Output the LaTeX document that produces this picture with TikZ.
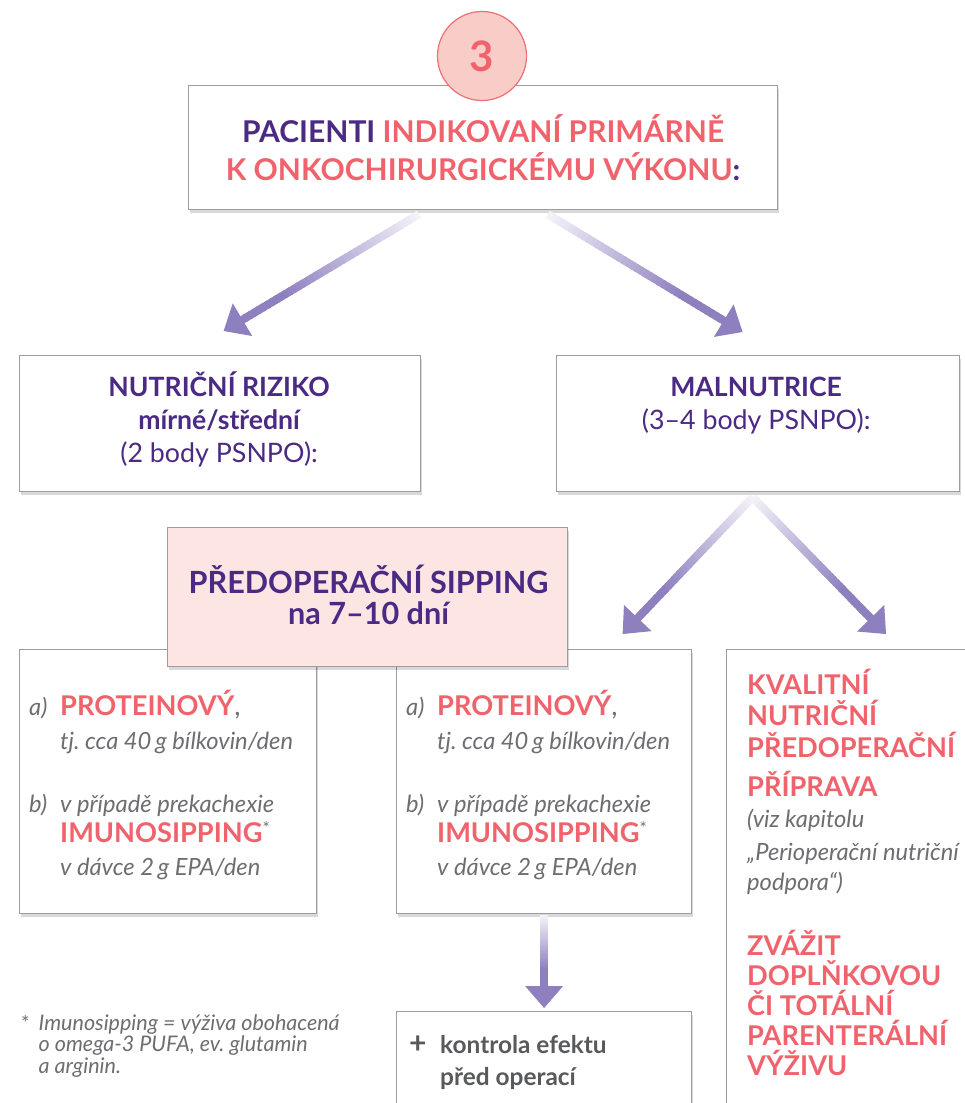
\documentclass[tikz,border=0pt]{standalone}
\usepackage{fontspec}
\setmainfont{Lato}
\frenchspacing
\usetikzlibrary{calc,shadows}
\definecolor{txtpurple}{HTML}{4B2A84}
\definecolor{coral}{HTML}{F0636D}
\definecolor{txtgrey}{HTML}{6D6E71}
\definecolor{darkgrey}{HTML}{58595B}
\definecolor{boxline}{HTML}{9D9D9D}
\definecolor{pinkfill}{HTML}{FCE5E2}
\definecolor{circfill}{HTML}{F9CDC7}
\definecolor{circline}{HTML}{EE6E73}
\definecolor{arrowpurple}{HTML}{8E80BF}
\definecolor{arrowstart}{HTML}{F4F2F9}
\newcommand\fadearrow[2]{%
  \path ($(#2)!22pt!(#1)$) coordinate (ab);
  \foreach \k in {0,...,39}{%
    \pgfmathsetmacro\ta{\k/40}%
    \pgfmathsetmacro\tb{(\k+1.6)/40}%
    \pgfmathsetmacro\pc{min(100,\k*100/30)}%
    \draw[line width=8pt, arrowpurple!\pc!arrowstart] ($(#1)!\ta!(ab)$) -- ($(#1)!\tb!(ab)$);
  }%
  \fill[arrowpurple] (#2) -- ($(ab)!19pt!90:(#2)$) -- ($(ab)!19pt!-90:(#2)$) -- cycle;
}
\newcommand\sipcontent[2]{%
  \node[itl, anchor=base west] (#2a) at ($(#1.north west)+(10,66)$) {a)};
  \node[redb, anchor=base west] (#2p) at ($(#1.north west)+(41,66)$) {PROTEINOVÝ\textcolor{txtgrey}{\mdseries\upshape ,}};
  \node[itl, anchor=base west] (#2t) at ($(#1.north west)+(41,100)$) {tj. cca 40\,g bílkovin/den};
  \node[itl, anchor=base west] (#2b) at ($(#1.north west)+(10,163)$) {b)};
  \node[itl, anchor=base west] (#2v) at ($(#1.north west)+(41,163)$) {v případě prekachexie};
  \node[redb, anchor=base west] (#2i) at ($(#1.north west)+(41,193)$) {IMUNOSIPPING\textcolor{txtgrey}{\mdseries\fontsize{17}{17}\selectfont\raisebox{8pt}{*}}};
  \node[itl, anchor=base west] (#2d) at ($(#1.north west)+(41,226)$) {v dávce 2\,g EPA/den};
}
\begin{document}
\begin{tikzpicture}[x=1pt,y=-1pt,
  box/.style={draw=boxline, line width=1.2pt, fill=white, inner sep=0pt,
    drop shadow={shadow xshift=1.5pt, shadow yshift=-3pt, opacity=0.15, fill=black}},
  hd/.style={anchor=base, inner sep=0pt, font=\fontsize{30}{34}\selectfont\bfseries},
  mid/.style={anchor=base, inner sep=0pt, text=txtpurple, font=\fontsize{26.8}{30}\selectfont},
  midb/.style={mid, font=\fontsize{26.6}{30}\selectfont\bfseries},
  sipb/.style={anchor=base, inner sep=0pt, text=txtpurple, font=\fontsize{30.6}{34}\selectfont\bfseries},
  itl/.style={inner sep=0pt, text=txtgrey, font=\fontsize{23.7}{27}\selectfont\itshape},
  redb/.style={inner sep=0pt, text=coral, font=\fontsize{27.2}{31}\selectfont\bfseries},
  foot/.style={inner sep=0pt, anchor=base west, text=txtgrey, font=\fontsize{21.5}{24}\selectfont\itshape},
  ctrl/.style={inner sep=0pt, anchor=base west, text=darkgrey, font=\fontsize{24.4}{28}\selectfont\bfseries}
]
\useasboundingbox (0,0) rectangle (965,1103);
\clip (0,0) rectangle (965,1103);
\fill[white] (0,0) rectangle (965,1103);

% top box and number
\node[box, anchor=north west, minimum width=589pt, minimum height=124pt] (topbox) at (188,85) {};
\node[circle, draw=circline, line width=1.2pt, fill=circfill, minimum size=89pt, inner sep=0pt, text=coral,
  font=\fontsize{42}{42}\selectfont\bfseries] (num) at (482,56) {3};
\node[hd] (t1) at ($(topbox.north)+(0,57.7)$) {\textcolor{txtpurple}{PACIENTI} \textcolor{coral}{INDIKOVANÍ PRIMÁRNĚ}};
\node[hd] (t2) at ($(topbox.north)+(0,95)$) {\textcolor{coral}{K ONKOCHIRURGICKÉMU VÝKONU}\textcolor{txtpurple}{:}};

% second row
\node[box, anchor=north west, minimum width=401pt, minimum height=136pt] (nrbox) at (19,355) {};
\node[box, anchor=north west, minimum width=403pt, minimum height=136pt] (malbox) at (556,355) {};
\node[midb] (n1) at ($(nrbox.north)+(-1,41)$) {NUTRIČNÍ RIZIKO};
\node[midb] (n2) at ($(nrbox.north)+(-1,74)$) {mírné/střední};
\node[mid] (n3) at ($(nrbox.north)+(-1,107)$) {(2 body PSNPO):};
\node[midb] (m1) at ($(malbox.north)+(-2,41)$) {MALNUTRICE};
\node[mid] (m2) at ($(malbox.north)+(-2,74)$) {(3–4 body PSNPO):};

% lower boxes
\node[box, anchor=north west, minimum width=297pt, minimum height=264pt] (lbox) at (19,649) {};
\node[box, anchor=north west, minimum width=295pt, minimum height=264pt] (midbox) at (396,649) {};
\node[box, anchor=north west, minimum width=300pt, minimum height=520pt] (rbox) at (726,649) {};
\node[box, anchor=north west, minimum width=295pt, minimum height=160pt] (botbox) at (396,1011) {};
\node[box, fill=pinkfill, anchor=north west, minimum width=400pt, minimum height=139pt] (sip) at (167,527) {};
\node[sipb] (s1) at ($(sip.north)+(1,66)$) {PŘEDOPERAČNÍ SIPPING};
\node[sipb] (s2) at ($(sip.north)+(1,97)$) {na 7–10 dní};

\sipcontent{lbox}{L}
\sipcontent{midbox}{M}

% right box text
\node[redb, anchor=base west] (r1) at ($(rbox.north west)+(21,45)$) {KVALITNÍ};
\node[redb, anchor=base west] (r2) at ($(rbox.north west)+(21,76)$) {NUTRIČNÍ};
\node[redb, anchor=base west] (r3) at ($(rbox.north west)+(21,108)$) {PŘEDOPERAČNÍ};
\node[redb, anchor=base west] (r4) at ($(rbox.north west)+(21,147)$) {PŘÍPRAVA};
\node[itl, anchor=base west] (r5) at ($(rbox.north west)+(21,178)$) {(viz kapitolu};
\node[itl, anchor=base west] (r6) at ($(rbox.north west)+(21,211)$) {„Perioperační nutriční};
\node[itl, anchor=base west] (r7) at ($(rbox.north west)+(21,241)$) {podpora“)};
\node[redb, anchor=base west] (r8) at ($(rbox.north west)+(21,306)$) {ZVÁŽIT};
\node[redb, anchor=base west] (r9) at ($(rbox.north west)+(21,336)$) {DOPLŇKOVOU};
\node[redb, anchor=base west] (r10) at ($(rbox.north west)+(21,366)$) {ČI TOTÁLNÍ};
\node[redb, anchor=base west] (r11) at ($(rbox.north west)+(21,396)$) {PARENTERÁLNÍ};
\node[redb, anchor=base west] (r12) at ($(rbox.north west)+(21,426)$) {VÝŽIVU};

% bottom box text
\node[ctrl, font=\fontsize{30}{30}\selectfont\bfseries] (plus) at ($(botbox.north west)+(13,42)$) {+};
\node[ctrl] (c1) at ($(botbox.north west)+(44,42)$) {kontrola efektu};
\node[ctrl] (c2) at ($(botbox.north west)+(44,74)$) {před operací};

% footnote
\node[foot, font=\fontsize{20}{22}\selectfont] (fs) at (21,1030) {*};
\node[foot] (f1) at (38.5,1030) {Imunosipping = výživa obohacená};
\node[foot] (f2) at (38.5,1051.5) {o omega-3 PUFA, ev. glutamin};
\node[foot] (f3) at (38.5,1073) {a arginin.};

% arrows
\coordinate (a1s) at ($(topbox.south)+(-64,4)$);
\coordinate (a1e) at ($(nrbox.north)+(3.5,-24)$);
\coordinate (a2s) at ($(topbox.south)+(64.5,4)$);
\coordinate (a2e) at ($(malbox.north)+(-15.5,-23)$);
\coordinate (a3s) at ($(malbox.south)+(-5.5,5)$);
\coordinate (a3e) at ($(midbox.north)+(78.5,-15)$);
\coordinate (a4e) at ($(rbox.north west)+(160,-15)$);
\coordinate (a5s) at ($(midbox.south)+(0,1)$);
\coordinate (a5e) at ($(botbox.north)+(0,-3)$);
\fadearrow{a1s}{a1e}
\fadearrow{a2s}{a2e}
\fadearrow{a3s}{a3e}
\fadearrow{a3s}{a4e}
\fadearrow{a5s}{a5e}
\end{tikzpicture}
\end{document}
